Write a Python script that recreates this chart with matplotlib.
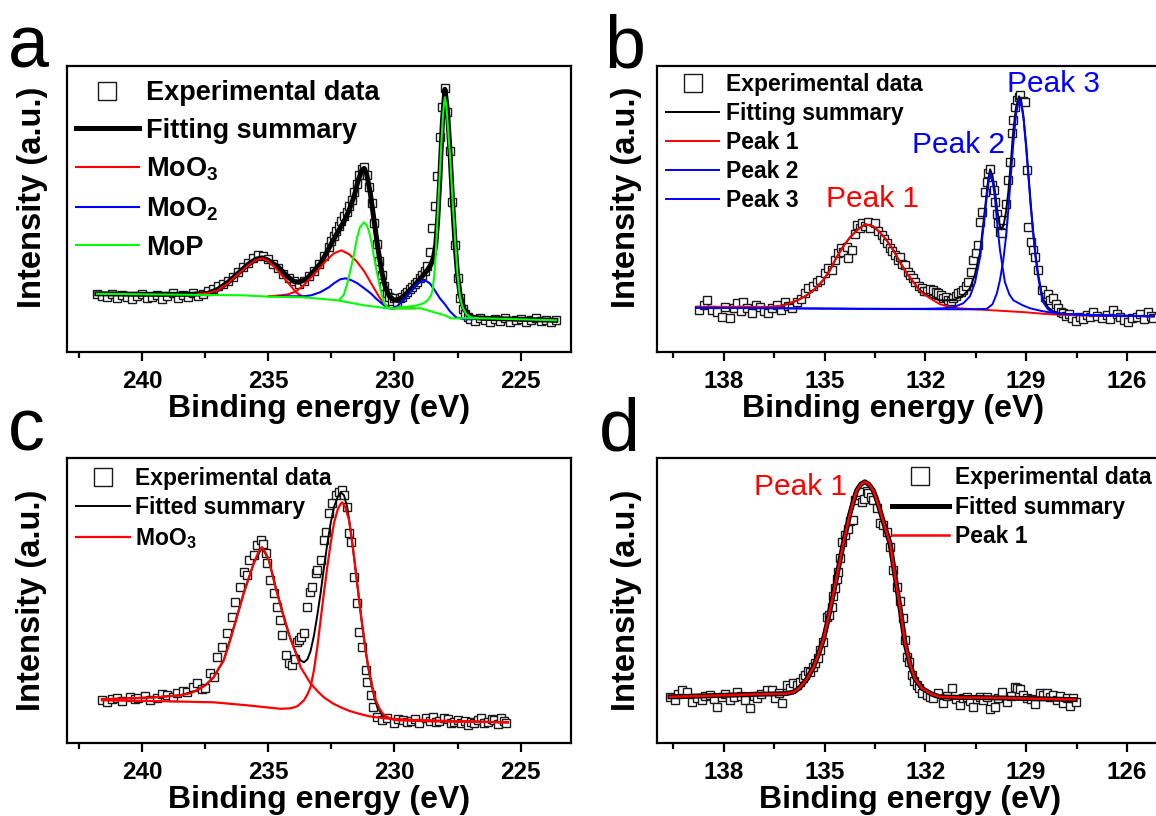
import matplotlib
matplotlib.use('Agg')
import matplotlib.pyplot as plt
from matplotlib.ticker import FixedLocator

plt.rcParams['font.family'] = ['Liberation Sans', 'DejaVu Sans']
plt.rcParams['mathtext.fontset'] = 'custom'
plt.rcParams['mathtext.rm'] = 'Liberation Sans:bold'
plt.rcParams['mathtext.it'] = 'Liberation Sans:bold'
plt.rcParams['mathtext.bf'] = 'Liberation Sans:bold'

# ---------------- Panel a : Mo 3d (MoP) ----------------
a_exp_x = [241.8, 241.6, 241.4, 241.2, 241.0, 240.8, 240.6, 240.4, 240.2, 240.0,
           239.8, 239.6, 239.4, 239.2, 239.0, 238.8, 238.6, 238.4, 238.2, 238.0,
           237.8, 237.6, 237.4, 237.2, 237.0, 236.8, 236.6, 236.4, 236.2, 236.0,
           235.8, 235.6, 235.4, 235.2, 235.0, 234.8, 234.6, 234.4, 234.2, 234.0,
           233.8, 233.6, 233.4, 233.2, 233.0, 232.8, 232.6, 232.5, 232.4, 232.3,
           232.2, 232.1, 232.0, 231.9, 231.8, 231.7, 231.6, 231.5, 231.4, 231.3,
           231.2, 231.1, 231.0, 230.9, 230.8, 230.7, 230.6, 230.5, 230.4, 230.3,
           230.2, 230.1, 230.0, 229.9, 229.8, 229.7, 229.6, 229.5, 229.4, 229.3,
           229.2, 229.1, 229.0, 228.9, 228.8, 228.7, 228.6, 228.5, 228.4, 228.3,
           228.2, 228.1, 228.0, 227.9, 227.8, 227.7, 227.6, 227.5, 227.4, 227.3,
           227.2, 227.1, 227.0, 226.8, 226.6, 226.4, 226.2, 226.0, 225.8, 225.6,
           225.4, 225.2, 225.0, 224.8, 224.6, 224.4, 224.2, 224.0, 223.8, 223.6]
a_exp_y = [58, 56, 55, 58, 54, 57, 55, 53, 56, 58,
           54, 55, 57, 53, 56, 59, 54, 57, 55, 59,
           56, 58, 61, 63, 66, 68, 71, 75, 80, 85,
           89, 94, 97, 96, 93, 88, 84, 78, 74, 71,
           68, 71, 76, 81, 88, 96, 105, 111, 116, 121,
           126, 131, 136, 140, 146, 152, 160, 168, 177, 183,
           185, 177, 165, 149, 129, 108, 91, 77, 66, 59,
           55, 51, 54, 50, 54, 55, 58, 60, 63, 65,
           68, 70, 74, 77, 81, 86, 100, 124, 146, 176,
           215, 245, 264, 240, 201, 150, 107, 74, 54, 43,
           38, 35, 33, 31, 34, 32, 30, 33, 31, 34,
           30, 32, 33, 30, 32, 34, 31, 32, 30, 32]

a_fit_x = [241.8, 240.0, 238.0, 237.4, 237.0, 236.6, 236.2, 235.8, 235.5, 235.25,
           235.0, 234.6, 234.3, 234.0, 233.8, 233.5, 233.2, 232.9, 232.6, 232.3,
           232.0, 231.8, 231.6, 231.45, 231.3, 231.2, 231.1, 230.95, 230.8, 230.65,
           230.5, 230.35, 230.2, 230.0, 229.8, 229.6, 229.35, 229.1, 228.9, 228.7,
           228.55, 228.45, 228.36, 228.28, 228.2, 228.1, 228.0, 227.9, 227.8, 227.7,
           227.6, 227.5, 227.4, 227.25, 227.1, 226.9, 226.5, 225.0, 223.6]
a_fit_y = [58.5, 58, 58, 59, 63, 70, 79, 88, 93, 94.5,
           92, 85, 77, 71, 70, 73, 81, 90, 104, 118,
           131, 142, 156, 171, 182, 184, 178, 158, 130, 103,
           80, 64, 56, 52, 53, 57, 63, 70, 76, 82,
           88, 95, 108, 135, 175, 230, 263, 242, 202, 152,
           110, 78, 58, 44, 38, 35, 34, 33, 32]

a_moo3_1_x = [237.8, 237.4, 237.0, 236.6, 236.2, 235.8, 235.5, 235.25, 235.0, 234.7,
              234.4, 234.1, 233.9, 233.7, 233.5]
a_moo3_1_y = [58.5, 59, 62, 69, 78, 87, 92, 94, 91, 84,
              75, 66, 60, 56.5, 55]
a_moo3_2_x = [235.0, 234.5, 234.2, 233.9, 233.6, 233.3, 233.0, 232.7, 232.4, 232.1,
              231.8, 231.5, 231.2, 230.9, 230.6, 230.4, 230.15, 229.8, 229.5, 229.2]
a_moo3_2_y = [56, 57, 58, 61, 67, 75, 83, 92, 99, 102,
              98, 91, 81, 68, 55, 48, 44, 44, 44, 44]

a_moo2_1_x = [234.6, 234.0, 233.6, 233.3, 232.95, 232.6, 232.4, 232.15, 231.93, 231.7,
              231.47, 231.2, 230.94, 230.7, 230.41, 230.2, 230.0]
a_moo2_1_y = [56, 56, 56, 57, 60, 65, 69, 73, 74, 72,
              69, 64, 59, 53, 47, 44, 44]
a_moo2_2_x = [230.1, 229.9, 229.6, 229.35, 229.1, 228.95, 228.79, 228.6, 228.4, 228.2,
              228.0, 227.8, 227.56, 227.23, 226.9]
a_moo2_2_y = [44, 46, 53, 61, 68, 71, 72, 69, 62, 54,
              48, 41, 35, 33, 33]

a_mop_base_x = [241.8, 240.0, 238.0, 236.0, 234.9, 233.6, 232.27, 231.21, 230.28, 229.5,
                228.95, 228.43, 228.0, 227.76, 226.5, 225.0, 223.6]
a_mop_base_y = [58.5, 58, 57.5, 57, 55.5, 55, 52, 47, 44, 44,
                44, 40, 37, 34, 34, 33, 32]
a_mop_1_x = [232.2, 232.0, 231.87, 231.73, 231.6, 231.48, 231.37, 231.21, 231.1, 231.01,
             230.91, 230.81, 230.71, 230.61, 230.5, 230.41, 230.28, 230.1]
a_mop_1_y = [52, 58, 69, 84, 99, 115, 125, 130, 127, 121,
             110, 95, 82, 69, 57, 49, 45, 44]
a_mop_2_x = [229.88, 229.5, 229.09, 228.85, 228.69, 228.55, 228.49, 228.42, 228.36, 228.3,
             228.23, 228.16, 228.09, 228.03, 228.0, 227.94, 227.87, 227.78, 227.69, 227.59,
             227.49, 227.4, 227.3, 227.15, 226.97, 226.7]
a_mop_2_y = [45, 45.5, 47, 49, 52, 57, 62, 78, 99, 130,
             165, 200, 232, 250, 255, 246, 222, 190, 149, 110,
             75, 55, 45, 38, 35, 34]

# ---------------- Panel b : P 2p ----------------
b_exp_x = [138.75, 138.6, 138.51, 138.36, 138.21, 138.06, 137.96, 137.81, 137.7, 137.61,
           137.5, 137.42, 137.3, 137.17, 137.05, 136.92, 136.8, 136.67, 136.55, 136.42,
           136.3, 136.18, 136.08, 135.98, 135.83, 135.7, 135.58, 135.48, 135.35, 135.23,
           135.13, 134.99, 134.89, 134.79, 134.69, 134.59, 134.5, 134.44, 134.34, 134.29,
           134.19, 134.1, 134.04, 133.95, 133.89, 133.8, 133.7, 133.65, 133.5, 133.4,
           133.3, 133.22, 133.15, 133.05, 132.98, 132.9, 132.82, 132.75, 132.68, 132.6,
           132.52, 132.45, 132.38, 132.3, 132.2, 132.11, 132.03, 131.96, 131.86, 131.76,
           131.68, 131.61, 131.53, 131.46, 131.38, 131.31, 131.24, 131.17, 131.1, 131.02,
           130.95, 130.87, 130.8, 130.72, 130.65, 130.57, 130.5, 130.42, 130.37, 130.3,
           130.22, 130.17, 130.12, 130.07, 130.02, 129.97, 129.93, 129.88, 129.83, 129.78,
           129.73, 129.68, 129.6, 129.53, 129.48, 129.43, 129.38, 129.33, 129.28, 129.21,
           129.18, 129.1, 129.03, 128.98, 128.93, 128.85, 128.78, 128.73, 128.64, 128.54,
           128.44, 128.36, 128.29, 128.19, 128.1, 128.04, 127.95, 127.89, 127.8, 127.72,
           127.64, 127.52, 127.4, 127.3, 127.2, 127.1, 127.0, 126.9, 126.75, 126.6,
           126.5, 126.4, 126.3, 126.2, 126.1, 125.96, 125.85, 125.71, 125.6, 125.5,
           125.36, 125.28, 125.21]
b_exp_y = [42, 47, 52, 42, 40, 35, 45, 34, 44, 49,
           41, 50, 44, 39, 47, 45, 41, 39, 44, 47,
           42, 50, 46, 44, 50, 53, 59, 64, 66, 70,
           72, 79, 84, 82, 92, 99, 104, 100, 105, 94,
           102, 118, 127, 124, 129, 126, 130, 124, 129, 121,
           117, 113, 109, 104, 101, 97, 92, 95, 88, 87,
           80, 77, 74, 70, 66, 64, 61, 61, 63, 62,
           60, 59, 57, 54, 55, 52, 51, 54, 56, 59,
           60, 62, 66, 70, 80, 92, 99, 107, 130, 140,
           160, 170, 179, 183, 167, 162, 150, 138, 129, 120,
           119, 132, 148, 172, 190, 219, 232, 245, 252, 255,
           257, 251, 250, 182, 125, 110, 102, 95, 82, 62,
           55, 58, 52, 54, 48, 44, 40, 39, 36, 38,
           34, 31, 35, 33, 37, 35, 40, 36, 34, 37,
           33, 42, 38, 35, 32, 30, 34, 35, 38, 33,
           40, 36, 34]

b_fit_x = [138.8, 137.0, 136.52, 136.3, 136.03, 135.8, 135.53, 135.3, 135.04, 134.84,
           134.64, 134.44, 134.24, 134.0, 133.79, 133.55, 133.35, 133.15, 132.95, 132.75,
           132.55, 132.35, 132.16, 131.86, 131.56, 131.3, 131.1, 130.87, 130.67, 130.52,
           130.37, 130.22, 130.13, 130.07, 130.0, 129.93, 129.85, 129.78, 129.73, 129.67,
           129.6, 129.53, 129.45, 129.38, 129.3, 129.21, 129.14, 129.08, 129.0, 128.93,
           128.86, 128.79, 128.72, 128.64, 128.56, 128.49, 128.35, 128.19, 128.0, 127.5,
           127.0, 126.0, 125.2]
b_fit_y = [45, 45, 45.5, 46.5, 49, 52, 57, 63, 72, 82,
           95, 106, 115, 123, 128, 126, 120, 112, 102, 90,
           79, 70, 62, 55, 52, 52, 53, 57, 64, 78,
           100, 145, 172, 183, 176, 162, 140, 126, 123, 127,
           140, 160, 192, 222, 245, 256, 250, 236, 208, 178,
           148, 121, 98, 78, 63, 53, 45, 41, 39, 37.5,
           37, 36.5, 36]

b_p1_x = [138.8, 137.5, 136.52, 136.3, 136.03, 135.8, 135.53, 135.3, 135.04, 134.84,
          134.64, 134.44, 134.24, 134.0, 133.79, 133.55, 133.35, 133.15, 132.95, 132.75,
          132.55, 132.35, 132.16, 131.86, 131.56, 131.3, 131.0, 130.5, 130.0, 129.5,
          129.0, 128.5, 128.0, 127.5, 126.5, 125.2]
b_p1_y = [45.5, 45.5, 45.5, 46.5, 49, 52, 57, 63, 72, 82,
          95, 106, 115, 123, 128, 126, 120, 112, 102, 90,
          79, 70, 61, 54, 48, 45.5, 44, 43, 42, 41,
          40, 38.5, 37.5, 37, 36.5, 36]

b_p2_x = [138.8, 136.0, 134.0, 132.0, 131.5, 131.17, 130.87, 130.67, 130.52, 130.37,
          130.22, 130.13, 130.07, 130.0, 129.93, 129.85, 129.78, 129.7, 129.63, 129.5,
          129.38, 129.1, 128.88, 128.5, 128.0, 127.0, 125.2]
b_p2_y = [44.5, 44, 43.5, 43.5, 44, 45, 49, 56, 70, 95,
          140, 168, 180, 172, 155, 125, 103, 85, 70, 58,
          52, 47, 44, 41, 38.5, 37, 36]

b_p3_x = [138.8, 134.0, 131.0, 130.5, 130.17, 130.0, 129.87, 129.78, 129.68, 129.6,
          129.53, 129.45, 129.38, 129.3, 129.21, 129.14, 129.08, 129.0, 128.93, 128.86,
          128.79, 128.72, 128.64, 128.56, 128.49, 128.35, 128.19, 128.0, 127.0, 125.2]
b_p3_y = [44.5, 43.5, 43, 43, 43.5, 48, 59, 72, 92, 115,
          142, 178, 209, 238, 253, 247, 235, 205, 175, 145,
          119, 95, 75, 60, 50, 43, 40, 38.5, 37, 36]

# ---------------- Panel c : Mo 3d (MoO3) ----------------
c_exp_x = [241.6, 241.41, 241.2, 241.01, 240.8, 240.48, 240.3, 240.15, 239.9, 239.69,
           239.42, 239.2, 239.02, 238.8, 238.62, 238.4, 238.23, 238.0, 237.83, 237.65,
           237.5, 237.3, 237.17, 237.03, 236.84, 236.64, 236.44, 236.31, 236.11, 235.98,
           235.85, 235.78, 235.58, 235.44, 235.31, 235.2, 235.11, 235.05, 234.92, 234.78,
           234.65, 234.52, 234.45, 234.32, 234.19, 234.05, 233.95, 233.86, 233.79, 233.72,
           233.59, 233.46, 233.33, 233.26, 233.13, 233.06, 232.93, 232.8, 232.73, 232.6,
           232.47, 232.33, 232.2, 232.07, 232.0, 231.87, 231.8, 231.74, 231.6, 231.47,
           231.4, 231.27, 231.14, 231.07, 230.94, 230.87, 230.68, 230.48, 230.28, 230.01,
           229.85, 229.68, 229.5, 229.35, 229.2, 229.02, 228.76, 228.6, 228.49, 228.35,
           228.22, 228.05, 227.89, 227.75, 227.63, 227.5, 227.36, 227.22, 227.1, 226.97,
           226.84, 226.7, 226.57, 226.45, 226.3, 226.15, 226.04, 225.9, 225.77, 225.65,
           225.58]
c_exp_y = [43, 41, 44, 45, 42, 46, 44, 45, 47, 43,
           45, 49, 48, 46, 50, 52, 51, 56, 60, 54,
           55, 70, 66, 86, 96, 110, 126, 141, 156, 171,
           168, 183, 188, 198, 203, 199, 190, 180, 163, 150,
           136, 123, 108, 88, 80, 78, 84, 101, 103, 106,
           110, 136, 151, 156, 170, 173, 183, 203, 211, 230,
           240, 248, 251, 253, 248, 236, 210, 201, 166, 140,
           111, 96, 73, 61, 48, 36, 26, 23, 25, 20,
           24, 23, 21, 22, 24, 20, 25, 22, 26, 21,
           22, 25, 24, 20, 21, 23, 20, 22, 18, 21,
           20, 23, 25, 20, 21, 24, 23, 19, 25, 22,
           20]

c_fit_x = [241.6, 239.5, 238.49, 237.83, 237.5, 237.17, 236.77, 236.37, 235.98, 235.58,
           235.25, 234.98, 234.72, 234.39, 234.12, 233.9, 233.72, 233.59, 233.45, 233.33,
           233.19, 233.06, 232.93, 232.8, 232.66, 232.53, 232.4, 232.26, 232.13, 232.0,
           231.87, 231.74, 231.6, 231.47, 231.34, 231.2, 231.07, 230.94, 230.8, 230.68,
           230.5, 230.3, 230.0, 229.0, 227.5, 225.5]
c_fit_y = [44, 46, 48, 53, 58, 66, 83, 116, 150, 180,
           196, 183, 157, 127, 104, 90, 83, 81, 84, 92,
           108, 128, 150, 175, 200, 220, 236, 246, 251, 248,
           236, 213, 186, 158, 130, 104, 80, 62, 46, 36,
           29, 25.5, 24, 22.5, 22, 21]

c_moo3_1_x = [241.6, 240.5, 239.5, 238.49, 238.1, 237.83, 237.5, 237.17, 236.97, 236.77,
              236.57, 236.37, 236.17, 235.98, 235.78, 235.58, 235.4, 235.25, 235.1, 234.98,
              234.85, 234.72, 234.55, 234.39, 234.2, 233.99, 233.72, 233.5, 233.33, 233.05,
              232.8, 232.45, 232.13, 231.8, 231.47, 231.0, 230.41, 229.5, 228.0, 226.5,
              225.5]
c_moo3_1_y = [44, 45, 46, 48, 50, 53, 58, 66, 75, 83,
              98, 116, 133, 150, 165, 180, 191, 196, 190, 183,
              170, 156, 141, 126, 110, 96, 76, 67, 60, 52,
              46, 40, 36, 32.5, 30, 27, 25, 23.5, 22.5, 21.5,
              21]
c_moo3_2_x = [241.6, 239.0, 237.17, 235.84, 234.52, 234.12, 233.85, 233.59, 233.45, 233.33,
              233.2, 233.06, 232.93, 232.8, 232.66, 232.53, 232.4, 232.26, 232.15, 232.07,
              231.95, 231.8, 231.67, 231.54, 231.4, 231.27, 231.14, 231.01, 230.87, 230.74,
              230.58, 230.41, 230.15, 229.9, 228.5, 227.0, 225.5]
c_moo3_2_y = [43, 42, 41, 38, 34.5, 35, 37, 43, 49, 56,
              72, 96, 123, 150, 177, 200, 220, 233, 239, 241,
              236, 223, 200, 173, 144, 116, 92, 73, 56, 43,
              34, 28, 24.5, 23, 22, 21.5, 21]

# ---------------- Panel d : P 2p (oxidised) ----------------
d_exp_x = [139.6, 139.45, 139.35, 139.25, 139.1, 138.95, 138.8, 138.66, 138.55, 138.41,
           138.3, 138.21, 138.06, 137.95, 137.81, 137.7, 137.61, 137.5, 137.37, 137.22,
           137.1, 137.02, 136.9, 136.72, 136.57, 136.47, 136.35, 136.27, 136.13, 136.03,
           135.93, 135.83, 135.73, 135.65, 135.58, 135.5, 135.43, 135.35, 135.28, 135.2,
           135.13, 135.04, 134.94, 134.86, 134.79, 134.74, 134.69, 134.64, 134.59, 134.54,
           134.49, 134.39, 134.3, 134.24, 134.14, 134.09, 134.0, 133.94, 133.89, 133.82,
           133.75, 133.7, 133.62, 133.55, 133.45, 133.35, 133.25, 133.15, 133.05, 132.95,
           132.85, 132.75, 132.65, 132.6, 132.55, 132.5, 132.41, 132.33, 132.26, 132.18,
           132.11, 131.96, 131.86, 131.76, 131.61, 131.46, 131.35, 131.21, 131.1, 130.97,
           130.87, 130.77, 130.67, 130.57, 130.47, 130.37, 130.27, 130.17, 130.07, 129.93,
           129.83, 129.73, 129.58, 129.45, 129.33, 129.26, 129.18, 129.08, 128.98, 128.85,
           128.73, 128.59, 128.5, 128.39, 128.29, 128.19, 128.09, 128.0, 127.89, 127.79,
           127.69, 127.59, 127.52]
d_exp_y = [46, 43, 49, 53, 51, 41, 45, 43, 47, 48,
           44, 36, 46, 49, 43, 46, 51, 47, 43, 35,
           47, 45, 49, 53, 53, 45, 50, 40, 58, 55,
           60, 58, 61, 65, 68, 72, 71, 76, 80, 85,
           93, 101, 126, 128, 136, 147, 155, 164, 171, 185,
           201, 208, 214, 222, 223, 243, 248, 251, 241, 244,
           252, 250, 246, 243, 235, 220, 218, 211, 196, 173,
           156, 142, 125, 103, 86, 81, 68, 62, 58, 55,
           50, 48, 46, 45, 50, 40, 47, 55, 44, 38,
           45, 46, 42, 36, 44, 46, 43, 46, 34, 36,
           45, 51, 41, 47, 56, 55, 54, 48, 45, 44,
           39, 50, 48, 50, 46, 48, 43, 47, 40, 45,
           37, 45, 41]

d_fit_x = [139.6, 139.0, 138.0, 137.0, 136.13, 135.9, 135.73, 135.53, 135.33, 135.18,
           135.04, 134.94, 134.84, 134.74, 134.64, 134.54, 134.44, 134.34, 134.24, 134.14,
           134.04, 133.92, 133.8, 133.68, 133.55, 133.45, 133.35, 133.2, 133.05, 132.9,
           132.75, 132.6, 132.45, 132.3, 132.1, 131.8, 131.56, 131.0, 130.37, 129.0,
           127.54]
d_fit_y = [46.5, 47, 48, 49, 49.7, 51.5, 56, 64, 76, 89,
           103, 117, 133, 149, 166, 183, 200, 215, 230, 242,
           253, 259, 261.5, 259, 253, 244, 233, 216, 200, 167,
           135, 100, 78, 64, 55, 49, 46.5, 45.8, 45.7, 44.8,
           43.7]

# ---------------- figure ----------------
W, H = 1156, 816
fig = plt.figure(figsize=(W / 100, H / 100), dpi=100)


def rect(l, t, r, b):
    return [l / W, 1 - b / H, (r - l) / W, (b - t) / H]


def ftext(x, y, s, **kw):
    fig.text(x / W, 1 - y / H, s, **kw)


ax_a = fig.add_axes(rect(66.6, 66, 571, 352.3))
ax_b = fig.add_axes(rect(656.5, 66, 1160.5, 352.3))
ax_c = fig.add_axes(rect(66.6, 458.3, 571, 743.3))
ax_d = fig.add_axes(rect(656.5, 458.3, 1160.5, 743.3))

mo_major = [240, 235, 230, 225]
mo_minor = [242.5, 237.5, 232.5, 227.5]
p_major = [138, 135, 132, 129, 126]
p_minor = [139.5, 136.5, 133.5, 130.5, 127.5]


def style(ax, xlim, ylim, majors, minors):
    ax.set_xlim(*xlim)
    ax.set_ylim(*ylim)
    ax.set_xticks(majors, labels=[str(m) for m in majors])
    ax.xaxis.set_minor_locator(FixedLocator(minors))
    ax.set_yticks([])
    ax.tick_params(axis='x', which='major', direction='out', length=6.5, width=1.6,
                   pad=6.5, labelsize=17.5)
    ax.tick_params(axis='x', which='minor', direction='out', length=4.5, width=1.6)
    for lab in ax.get_xticklabels():
        lab.set_fontweight('bold')
    for s in ax.spines.values():
        s.set_linewidth(1.6)


style(ax_a, (243.0, 223.0), (0, 286.3), mo_major, mo_minor)
style(ax_b, (140.0, 125.0), (0, 286.3), p_major, p_minor)
style(ax_c, (243.0, 223.0), (0, 285), mo_major, mo_minor)
style(ax_d, (140.0, 125.0), (0, 285), p_major, p_minor)

RED, BLUE, GREEN = '#ff0000', '#0000ff', '#00ff00'
mk = dict(ls='none', marker='s', ms=6, mfc='white', mec='#1a1a1a', mew=1.0, zorder=1)

# panel a
ax_a.plot(a_exp_x, a_exp_y, label='Experimental data', **mk)
ax_a.plot(a_fit_x, a_fit_y, color='black', lw=3.6, label='Fitting summary', zorder=2)
ax_a.plot(a_moo3_1_x, a_moo3_1_y, color=RED, lw=1.5, label='MoO$_3$', zorder=3)
ax_a.plot(a_moo3_2_x, a_moo3_2_y, color=RED, lw=1.5, zorder=3)
ax_a.plot(a_moo2_1_x, a_moo2_1_y, color=BLUE, lw=1.5, label='MoO$_2$', zorder=3)
ax_a.plot(a_moo2_2_x, a_moo2_2_y, color=BLUE, lw=1.5, zorder=3)
ax_a.plot(a_mop_base_x, a_mop_base_y, color=GREEN, lw=1.5, label='MoP', zorder=4)
ax_a.plot(a_mop_1_x, a_mop_1_y, color=GREEN, lw=1.5, zorder=4)
ax_a.plot(a_mop_2_x, a_mop_2_y, color=GREEN, lw=1.5, zorder=4)

# panel b
ax_b.plot(b_exp_x, b_exp_y, label='Experimental data', **mk)
ax_b.plot(b_fit_x, b_fit_y, color='black', lw=1.4, label='Fitting summary', zorder=2)
ax_b.plot(b_p1_x, b_p1_y, color=RED, lw=1.4, label='Peak 1', zorder=3)
ax_b.plot(b_p2_x, b_p2_y, color=BLUE, lw=1.4, label='Peak 2', zorder=4)
ax_b.plot(b_p3_x, b_p3_y, color=BLUE, lw=1.4, label='Peak 3', zorder=4)

# panel c
ax_c.plot(c_exp_x, c_exp_y, label='Experimental data', **mk)
ax_c.plot(c_fit_x, c_fit_y, color='black', lw=1.4, label='Fitted summary', zorder=2)
ax_c.plot(c_moo3_1_x, c_moo3_1_y, color=RED, lw=1.6, label='MoO$_3$', zorder=3)
ax_c.plot(c_moo3_2_x, c_moo3_2_y, color=RED, lw=1.6, zorder=3)

# panel d
ax_d.plot(d_exp_x, d_exp_y, label='Experimental data', **mk)
ax_d.plot(d_fit_x, d_fit_y, color='black', lw=3.6, label='Fitted summary', zorder=2)
ax_d.plot(d_fit_x, d_fit_y, color=RED, lw=1.8, label='Peak 1', zorder=3)


def leg(ax, fs, x, y, hl, htp, ls):
    ax.legend(loc='upper left', bbox_to_anchor=(x, y), frameon=False, borderpad=0,
              borderaxespad=0, prop={'weight': 'bold', 'size': fs}, handlelength=hl,
              handletextpad=htp, labelspacing=ls, markerscale=2.1)


leg(ax_a, 19.5, 0.0186, 0.951, 2.32, 0.26, 0.44)
leg(ax_b, 16.5, 0.0196, 0.977, 2.31, 0.29, 0.27)
leg(ax_c, 16.5, 0.018, 0.971, 2.35, 0.24, 0.30)
leg(ax_d, 16.5, 0.468, 0.974, 2.45, 0.28, 0.30)

# peak annotations
ax_b.text(133.56, 145.6, 'Peak 1', color=RED, fontsize=21.5, ha='center', va='baseline')
ax_b.text(131.0, 199, 'Peak 2', color=BLUE, fontsize=21.5, ha='center', va='baseline')
ax_b.text(128.17, 260, 'Peak 3', color=BLUE, fontsize=21.5, ha='center', va='baseline')
ax_d.text(135.71, 248, 'Peak 1', color=RED, fontsize=21.5, ha='center', va='baseline')

# axis labels
ylab = dict(rotation=90, ha='center', va='center', fontsize=23.5, fontweight='bold')
ftext(33, 197, 'Intensity (a.u.)', **ylab)
ftext(626, 197, 'Intensity (a.u.)', **ylab)
ftext(32, 600, 'Intensity (a.u.)', **ylab)
ftext(626, 600, 'Intensity (a.u.)', **ylab)

xlab = dict(ha='center', va='baseline', fontsize=23, fontweight='bold')
ftext(319, 417, 'Binding energy (eV)', **xlab)
ftext(893, 417, 'Binding energy (eV)', **xlab)
ftext(319, 808, 'Binding energy (eV)', **xlab)
ftext(910, 808, 'Binding energy (eV)', **xlab)

# panel letters
pl = dict(fontsize=53, ha='left', va='baseline')
ftext(8, 67, 'a', **pl)
ftext(604, 67, 'b', **pl)
ftext(8, 450, 'c', **pl)
ftext(599, 450, 'd', **pl)

fig.savefig('out.png', dpi=100)
